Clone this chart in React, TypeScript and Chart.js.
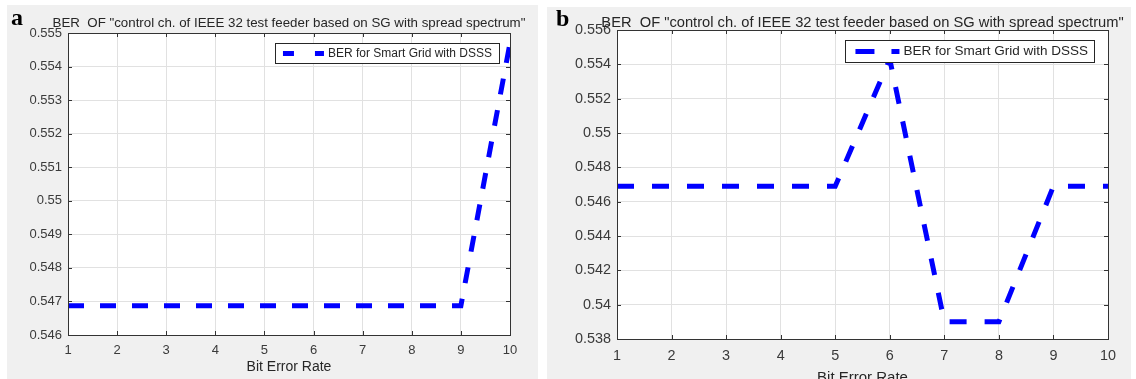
import React, { useEffect, useRef } from "react";
import { Chart, registerables } from "chart.js";

Chart.register(...registerables);

// ---------- data ----------
const xValues = [1, 2, 3, 4, 5, 6, 7, 8, 9, 10];
const berSeriesA = [0.54687, 0.54687, 0.54687, 0.54687, 0.54687, 0.54687, 0.54687, 0.54687, 0.54687, 0.5547];
const berSeriesB = [0.5469, 0.5469, 0.5469, 0.5469, 0.5469, 0.5543, 0.539, 0.539, 0.5469, 0.5469];
const xTickValues = [1, 2, 3, 4, 5, 6, 7, 8, 9, 10];
const yTicksA = [0.546, 0.547, 0.548, 0.549, 0.55, 0.551, 0.552, 0.553, 0.554, 0.555];
const yTicksB = [0.538, 0.54, 0.542, 0.544, 0.546, 0.548, 0.55, 0.552, 0.554, 0.556];
const chartTitle = 'BER  OF "control ch. of IEEE 32 test feeder based on SG with spread spectrum"';
const legendLabel = "BER for Smart Grid with DSSS";
const xAxisLabel = "Bit Error Rate";

const FONT = "'Liberation Sans', Arial, Helvetica, sans-serif";
const AXIS_COLOR = "#333333";
const TEXT_COLOR = "#3a3a3a";

const fmt = (v: number) => String(parseFloat(Number(v).toFixed(3)));

const matlabPlugin = {
  id: "matlabFrame",
  beforeDraw(chart: any) {
    const { ctx, chartArea: a } = chart;
    ctx.save();
    ctx.fillStyle = "#ffffff";
    ctx.fillRect(a.left, a.top, a.right - a.left, a.bottom - a.top);
    ctx.restore();
  },
  afterDraw(chart: any, _args: any, opts: any) {
    const { ctx, chartArea: a } = chart;
    const xs = chart.scales.x;
    const ys = chart.scales.y;
    ctx.save();
    // frame
    ctx.strokeStyle = AXIS_COLOR;
    ctx.lineWidth = 1;
    ctx.setLineDash([]);
    ctx.strokeRect(Math.round(a.left) + 0.5, Math.round(a.top) + 0.5, Math.round(a.right - a.left), Math.round(a.bottom - a.top));
    // inward ticks
    const tl = opts.tickLen;
    ctx.beginPath();
    xs.ticks.forEach((t: any) => {
      const px = Math.round(xs.getPixelForValue(t.value)) + 0.5;
      ctx.moveTo(px, a.bottom);
      ctx.lineTo(px, a.bottom - tl);
      ctx.moveTo(px, a.top);
      ctx.lineTo(px, a.top + tl);
    });
    ys.ticks.forEach((t: any) => {
      const py = Math.round(ys.getPixelForValue(t.value)) + 0.5;
      ctx.moveTo(a.left, py);
      ctx.lineTo(a.left + tl, py);
      ctx.moveTo(a.right, py);
      ctx.lineTo(a.right - tl, py);
    });
    ctx.stroke();

    // title
    ctx.fillStyle = "#262626";
    ctx.font = `${opts.titleSize}px ${FONT}`;
    ctx.textAlign = "center";
    ctx.textBaseline = "alphabetic";
    ctx.fillText(opts.title, (a.left + a.right) / 2, opts.titleY);

    // legend
    const L = opts.legend;
    const ds = chart.data.datasets[0];
    ctx.font = `${L.fontSize}px ${FONT}`;
    const tw = ctx.measureText(ds.label).width;
    const boxW = L.padLeft + L.lineLen + L.gap + tw + L.padRight;
    const boxR = a.right - L.marginRight;
    const boxL = boxR - boxW;
    const boxT = a.top + L.marginTop;
    ctx.fillStyle = "#ffffff";
    ctx.fillRect(boxL, boxT, boxW, L.height);
    ctx.strokeStyle = "#262626";
    ctx.lineWidth = 1;
    ctx.strokeRect(Math.round(boxL) + 0.5, Math.round(boxT) + 0.5, Math.round(boxW), L.height);
    const cy = boxT + L.height / 2 + 0.5;
    ctx.strokeStyle = ds.borderColor;
    ctx.lineWidth = ds.borderWidth;
    ctx.setLineDash(L.dash);
    ctx.beginPath();
    ctx.moveTo(boxL + L.padLeft, cy);
    ctx.lineTo(boxL + L.padLeft + L.lineLen, cy);
    ctx.stroke();
    ctx.setLineDash([]);
    ctx.fillStyle = "#262626";
    ctx.textAlign = "left";
    ctx.textBaseline = "middle";
    ctx.fillText(ds.label, boxL + L.padLeft + L.lineLen + L.gap, cy);
    ctx.restore();
  },
};

type PanelProps = {
  letter: string;
  series: number[];
  yTicks: number[];
  left: number;
  top: number;
  width: number;
  height: number;
  plot: { left: number; right: number; top: number; bottom: number };
  tickFont: number;
  xTickPad: number;
  xTitleFont: number;
  xTitlePadBottom: number;
  titleSize: number;
  titleY: number;
  lineDash: number[];
  legend: any;
  letterX: number;
  letterY: number;
};

function Panel(p: PanelProps) {
  const ref = useRef<HTMLCanvasElement | null>(null);
  useEffect(() => {
    if (!ref.current) return;
    const yMin = p.yTicks[0];
    const yMax = p.yTicks[p.yTicks.length - 1];
    const chart = new Chart(ref.current, {
      type: "line",
      data: {
        labels: xValues,
        datasets: [
          {
            label: legendLabel,
            data: xValues.map((x, i) => ({ x, y: p.series[i] })),
            borderColor: "#0000ff",
            backgroundColor: "#0000ff",
            borderWidth: 5,
            borderDash: p.lineDash,
            borderCapStyle: "butt",
            borderJoinStyle: "miter",
            pointRadius: 0,
            tension: 0,
            fill: false,
          },
        ],
      },
      options: {
        animation: false,
        responsive: false,
        devicePixelRatio: 1,
        layout: {
          padding: {
            left: 0,
            top: p.plot.top,
            right: p.width - p.plot.right,
            bottom: 0,
          },
        },
        scales: {
          x: {
            type: "linear",
            min: 1,
            max: 10,
            afterBuildTicks: (scale: any) => {
              scale.ticks = xTickValues.map((v) => ({ value: v }));
            },
            afterFit: (scale: any) => {
              scale.height = p.height - p.plot.bottom;
            },
            grid: { color: "#e1e1e1", lineWidth: 1, drawTicks: false },
            border: { display: false },
            ticks: {
              color: TEXT_COLOR,
              font: { family: FONT, size: p.tickFont },
              padding: p.xTickPad,
              maxRotation: 0,
              autoSkip: false,
              callback: (v: any) => String(v),
            },
            title: {
              display: true,
              text: xAxisLabel,
              color: "#262626",
              font: { family: FONT, size: p.xTitleFont },
              padding: { top: 0, bottom: p.xTitlePadBottom },
            },
          },
          y: {
            type: "linear",
            min: yMin,
            max: yMax,
            afterBuildTicks: (scale: any) => {
              scale.ticks = p.yTicks.map((v) => ({ value: v }));
            },
            afterFit: (scale: any) => {
              scale.width = p.plot.left;
            },
            grid: { color: "#e1e1e1", lineWidth: 1, drawTicks: false },
            border: { display: false },
            ticks: {
              color: TEXT_COLOR,
              font: { family: FONT, size: p.tickFont },
              padding: 6,
              autoSkip: false,
              callback: (v: any) => fmt(v),
            },
          },
        },
        plugins: {
          legend: { display: false },
          title: { display: false },
          tooltip: { enabled: false },
          matlabFrame: {
            tickLen: 4,
            title: chartTitle,
            titleSize: p.titleSize,
            titleY: p.titleY,
            legend: p.legend,
          },
        } as any,
      },
      plugins: [matlabPlugin],
    } as any);
    return () => chart.destroy();
  }, []);

  return (
    <div
      style={{
        position: "absolute",
        left: p.left,
        top: p.top,
        width: p.width,
        height: p.height,
        background: "#f0f0f0",
      }}
    >
      <canvas ref={ref} width={p.width} height={p.height} style={{ width: p.width, height: p.height, display: "block" }} />
      <span
        style={{
          position: "absolute",
          left: p.letterX,
          top: p.letterY,
          fontFamily: "'Liberation Serif', 'Times New Roman', serif",
          fontWeight: "bold",
          fontSize: 24,
          lineHeight: "24px",
          color: "#000",
        }}
      >
        {p.letter}
      </span>
    </div>
  );
}

export default function App() {
  return (
    <div
      style={{
        position: "absolute",
        left: 0,
        top: 0,
        width: 1136,
        height: 379,
        overflow: "hidden",
        background: "#ffffff",
      }}
    >
      <Panel
        letter="a"
        series={berSeriesA}
        yTicks={yTicksA}
        left={7}
        top={5}
        width={531}
        height={374}
        plot={{ left: 61, right: 503, top: 28, bottom: 330 }}
        tickFont={13}
        xTickPad={8}
        xTitleFont={14}
        xTitlePadBottom={3}
        titleSize={13.3}
        titleY={22}
        lineDash={[16, 16]}
        legend={{ fontSize: 12, padLeft: 8, lineLen: 41, gap: 4, padRight: 7, marginRight: 11, marginTop: 10, height: 20, dash: [11, 21] }}
        letterX={4}
        letterY={0}
      />
      <Panel
        letter="b"
        series={berSeriesB}
        yTicks={yTicksB}
        left={547}
        top={7}
        width={584}
        height={400}
        plot={{ left: 70, right: 561, top: 23, bottom: 332 }}
        tickFont={14.4}
        xTickPad={8}
        xTitleFont={15}
        xTitlePadBottom={20}
        titleSize={14.7}
        titleY={20}
        lineDash={[17, 18]}
        legend={{ fontSize: 13.5, padLeft: 10, lineLen: 44, gap: 4, padRight: 6, marginRight: 14, marginTop: 10, height: 22, dash: [19, 17] }}
        letterX={9}
        letterY={-1}
      />
    </div>
  );
}
